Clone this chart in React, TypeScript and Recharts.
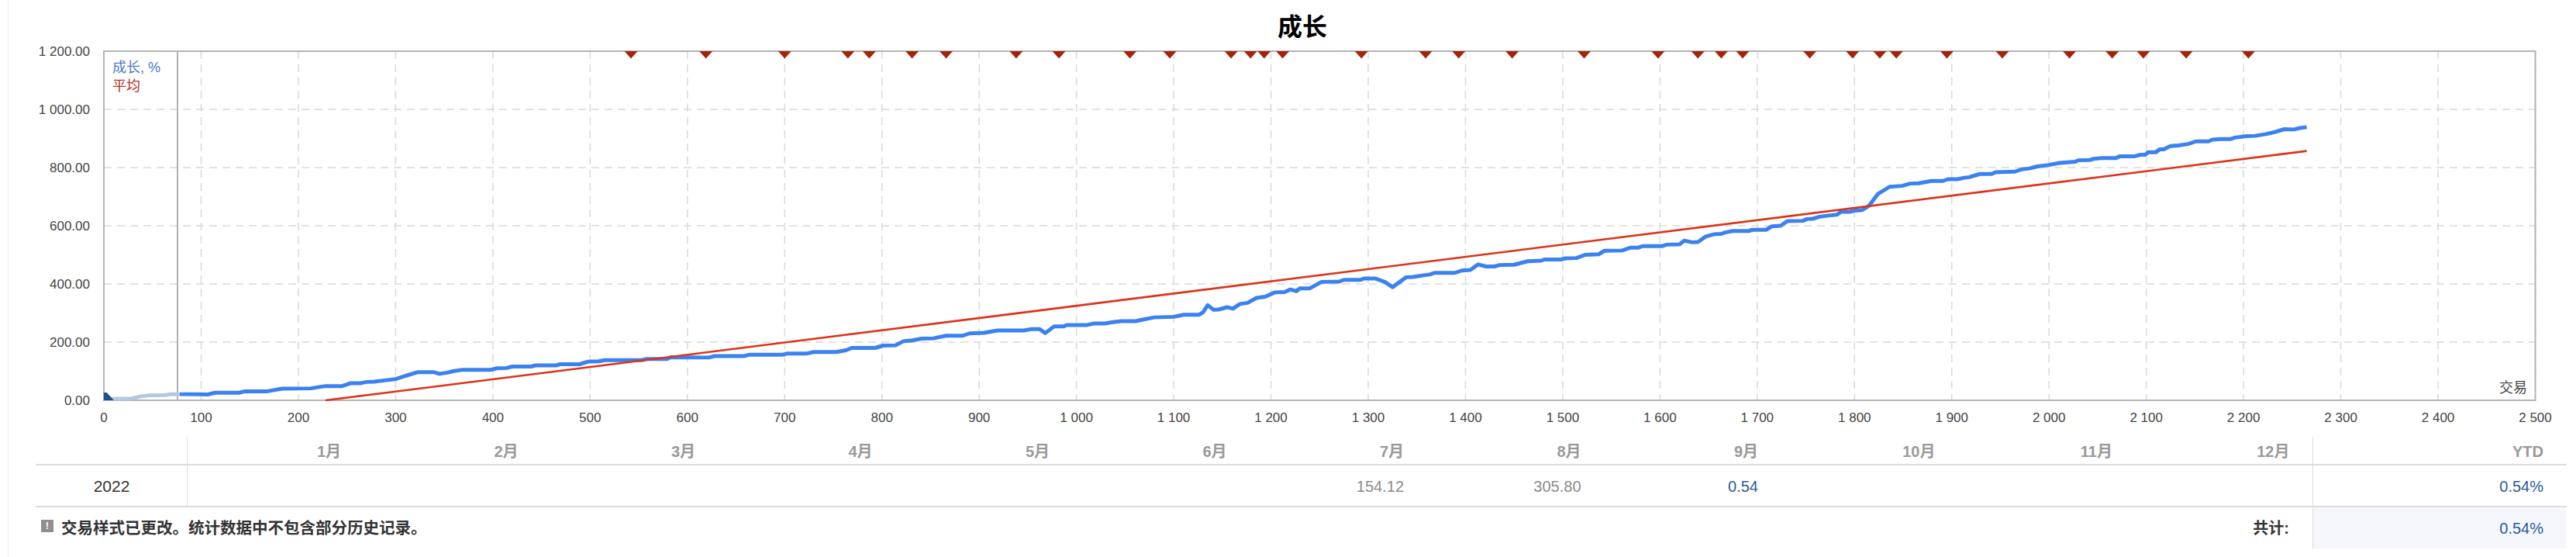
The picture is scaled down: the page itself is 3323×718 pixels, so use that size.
import { CartesianGrid, ComposedChart, Line, ReferenceArea, ReferenceLine, XAxis, YAxis } from 'recharts';

const FONT = '"Liberation Sans", "Noto Sans CJK SC", sans-serif';

const xTicks = [0, 100, 200, 300, 400, 500, 600, 700, 800, 900, 1000, 1100, 1200, 1300, 1400, 1500, 1600, 1700, 1800, 1900, 2000, 2100, 2200, 2300, 2400, 2500];
const yTicks = [0, 200, 400, 600, 800, 1000, 1200];

const historyTrades = [0, 10, 29, 37, 46, 63, 69, 78];
const historyValues = [4, 5, 6, 13, 17, 18, 21, 21];

const growthTrades = [
  78, 107, 114, 139, 145, 168, 183, 213, 220, 228, 245, 254, 264, 270, 278, 290, 300, 310, 323, 339, 345, 353, 359, 369, 398, 404, 414, 420, 439, 444,
  465, 469, 489, 498, 509, 515, 553, 558, 579, 583, 622, 628, 658, 664, 698, 703, 723, 730, 753, 763, 769, 793, 801, 814, 822, 831, 841, 853, 866, 883,
  890, 905, 919, 946, 954, 962, 968, 977, 987, 990, 1011, 1018, 1029, 1036, 1046, 1061, 1069, 1080, 1100, 1110, 1126, 1130, 1135, 1141, 1146, 1155, 1161, 1168, 1176, 1185,
  1194, 1204, 1214, 1220, 1226, 1230, 1240, 1252, 1270, 1275, 1292, 1296, 1307, 1317, 1325, 1339, 1346, 1364, 1368, 1389, 1396, 1405, 1413, 1421, 1430, 1435, 1450, 1464, 1478, 1481,
  1498, 1503, 1514, 1523, 1537, 1543, 1561, 1570, 1578, 1582, 1602, 1607, 1620, 1625, 1633, 1639, 1647, 1656, 1663, 1667, 1675, 1691, 1695, 1709, 1715, 1724, 1731, 1747, 1751, 1757,
  1764, 1773, 1782, 1786, 1795, 1800, 1808, 1815, 1824, 1836, 1849, 1857, 1866, 1879, 1891, 1896, 1906, 1913, 1918, 1929, 1941, 1945, 1965, 1972, 1980, 1988, 2000, 2011, 2027, 2030,
  2042, 2046, 2055, 2069, 2073, 2088, 2094, 2099, 2102, 2110, 2114, 2118, 2125, 2133, 2143, 2151, 2164, 2168, 2176, 2187, 2191, 2203, 2212, 2223, 2232, 2242, 2252, 2258, 2265,
];
const growthValues = [
  21, 20, 26, 26, 31, 31, 40, 41, 45, 49, 49, 59, 59, 63, 64, 69, 73, 84, 97, 97, 91, 95, 100, 105, 105, 110, 111, 116, 116, 120,
  120, 124, 124, 133, 134, 138, 138, 142, 142, 148, 147, 152, 152, 157, 157, 161, 161, 166, 166, 172, 180, 180, 188, 189, 203, 206, 212, 213, 222, 222,
  230, 232, 240, 240, 245, 245, 231, 254, 254, 259, 259, 264, 264, 268, 272, 272, 278, 285, 287, 294, 294, 302, 327, 311, 312, 320, 315, 331, 335, 352,
  356, 371, 372, 381, 375, 385, 385, 407, 408, 414, 414, 419, 419, 407, 389, 423, 424, 433, 438, 438, 446, 448, 467, 460, 460, 465, 466, 478, 480, 484,
  484, 488, 489, 500, 502, 514, 515, 525, 525, 530, 530, 535, 536, 549, 543, 544, 563, 571, 572, 577, 582, 582, 586, 586, 598, 600, 616, 617, 623, 624,
  631, 635, 638, 648, 648, 652, 654, 669, 709, 734, 737, 745, 746, 754, 754, 760, 760, 765, 767, 778, 778, 784, 786, 794, 797, 804, 809, 816, 820, 825,
  826, 830, 833, 833, 839, 839, 844, 844, 853, 853, 863, 863, 874, 876, 881, 890, 890, 896, 898, 898, 903, 908, 909, 915, 922, 932, 931, 936, 939,
];

const averageTrades = [228, 2265];
const averageValues = [0, 857];

const withdrawalTrades = [
  542, 619, 700, 765, 787, 831, 866, 938, 982, 1055, 1096, 1159, 1179, 1193, 1212, 1293, 1359, 1393, 1448, 1522, 1598, 1639, 1663, 1685, 1754, 1798, 1826, 1843, 1895, 1952, 2021, 2065, 2097, 2141, 2205,
];
const depositTrades = [3];

const months = ['1月', '2月', '3月', '4月', '5月', '6月', '7月', '8月', '9月', '10月', '11月', '12月'];
const monthValues = ['', '', '', '', '', '', '154.12', '305.80', '0.54', '', '', ''];

const toPoints = (trades: number[], values: number[]) => trades.map((trade, i) => ({ trade, value: values[i] }));
const formatThousands = (v: number) => String(v).replace(/\B(?=(\d{3})+$)/g, ' ');
const formatY = (v: number) => `${formatThousands(v)}.00`;

function DownMarker({ cx, cy, index }: any) {
  return <polygon key={index} points={`${cx - 8.5},${cy} ${cx + 8.5},${cy} ${cx},${cy + 9.5}`} fill="#a3230c" />;
}

function UpMarker({ cx, cy, index }: any) {
  return <polygon key={index} points={`${cx - 3.8},${cy} ${cx - 3.8},${cy - 10} ${cx},${cy - 10} ${cx + 9},${cy}`} fill="#1f4f8f" />;
}

function Label({ children, style }: any) {
  return <div style={{ position: 'absolute', whiteSpace: 'nowrap', lineHeight: 1, ...style }}>{children}</div>;
}

function Rule({ left, top, width, height, color = '#dcdcdc' }: any) {
  return <div style={{ position: 'absolute', left, top, width, height, background: color }} />;
}

export default function App() {
  return (
    <div style={{ position: 'absolute', left: 0, top: 0, width: 3323, height: 718, overflow: 'hidden', background: '#fff', fontFamily: FONT }}>
      <Rule left={10} top={0} width={1} height={718} color="#ececec" />
      <Label style={{ left: 1616, top: 19, width: 128, textAlign: 'center', fontSize: 32, fontWeight: 700, color: '#000' }}>成长</Label>

      <ComposedChart width={3323} height={718} margin={{ top: 66, right: 52.5, bottom: 172, left: 74 }} style={{ position: 'absolute', left: 0, top: 0 }}>
        <CartesianGrid stroke="#d9d9d9" strokeWidth={1.5} strokeDasharray="10 7" />
        <XAxis
          dataKey="trade"
          type="number"
          domain={[0, 2500]}
          ticks={xTicks}
          interval={0}
          height={30}
          axisLine={false}
          tickLine={false}
          tickMargin={10}
          tickFormatter={formatThousands}
          tick={{ fontSize: 17, fill: '#444', fontFamily: FONT }}
        />
        <YAxis
          dataKey="value"
          type="number"
          domain={[0, 1200]}
          ticks={yTicks}
          interval={0}
          width={60}
          axisLine={false}
          tickLine={false}
          tickMargin={12}
          tickFormatter={formatY}
          tick={{ fontSize: 17, fill: '#444', fontFamily: FONT }}
        />
        <ReferenceArea x1={0} x2={2500} y1={0} y2={1200} fill="none" stroke="#b4b4b4" strokeWidth={2} ifOverflow="visible" />
        <ReferenceLine x={75.7} stroke="#b0b0b0" strokeWidth={2} />
        <Line data={toPoints(historyTrades, historyValues)} dataKey="value" stroke="#b3c7e2" strokeWidth={5} dot={false} isAnimationActive={false} />
        <Line data={toPoints(growthTrades, growthValues)} dataKey="value" stroke="#3b82f0" strokeWidth={5} strokeLinejoin="round" dot={false} isAnimationActive={false} />
        <Line data={toPoints(averageTrades, averageValues)} dataKey="value" stroke="#dd3217" strokeWidth={2.6} dot={false} isAnimationActive={false} />
        <Line data={withdrawalTrades.map((trade) => ({ trade, value: 1200 }))} dataKey="value" stroke="none" dot={DownMarker} isAnimationActive={false} />
        <Line data={depositTrades.map((trade) => ({ trade, value: 0 }))} dataKey="value" stroke="none" dot={UpMarker} isAnimationActive={false} />
      </ComposedChart>

      <Label style={{ left: 145, top: 78, fontSize: 18, color: '#4a78c8' }}>成长, %</Label>
      <Label style={{ left: 145, top: 102, fontSize: 18, color: '#b5301f' }}>平均</Label>
      <Label style={{ left: 3224, top: 491, fontSize: 18, color: '#444' }}>交易</Label>

      <Rule left={46} top={598} width={3265} height={2} />
      <Rule left={46} top={652} width={3265} height={2} />
      <Rule left={241} top={563} width={1} height={90} />
      <div style={{ position: 'absolute', left: 2984, top: 654, width: 326, height: 53, background: '#f5f7fc' }} />
      <Rule left={2983} top={563} width={1} height={144} />

      {months.map((month, i) => (
        <Label key={month} style={{ left: 240 + i * 228.5, width: 200, top: 572, textAlign: 'right', fontSize: 20, fontWeight: 700, color: '#999' }}>
          {month}
        </Label>
      ))}
      {monthValues.map((value, i) =>
        value ? (
          <Label key={i} style={{ left: 240 + i * 228.5, width: 200, top: 617, textAlign: 'right', fontSize: 20, color: i === 8 ? '#2a5a9a' : '#8c8c8c' }}>
            {value}
          </Label>
        ) : null,
      )}
      <Label style={{ left: 100, top: 616, width: 88, textAlign: 'center', fontSize: 21, color: '#333' }}>2022</Label>
      <Label style={{ left: 3081, top: 572, width: 200, textAlign: 'right', fontSize: 20, fontWeight: 700, color: '#999' }}>YTD</Label>
      <Label style={{ left: 3081, top: 617, width: 200, textAlign: 'right', fontSize: 20, color: '#2a5a9a' }}>0.54%</Label>
      <Label style={{ left: 3081, top: 671, width: 200, textAlign: 'right', fontSize: 20, color: '#2a5a9a' }}>0.54%</Label>

      <div style={{ position: 'absolute', left: 53, top: 670, width: 16, height: 16, background: '#8f8f8f', color: '#fff', fontSize: 13, fontWeight: 700, lineHeight: '16px', textAlign: 'center' }}>!</div>
      <Label style={{ left: 79, top: 671, fontSize: 20.5, fontWeight: 700, color: '#333' }}>交易样式已更改。统计数据中不包含部分历史记录。</Label>
      <Label style={{ left: 2753, top: 671, width: 200, textAlign: 'right', fontSize: 20, fontWeight: 700, color: '#333' }}>共计:</Label>
    </div>
  );
}
